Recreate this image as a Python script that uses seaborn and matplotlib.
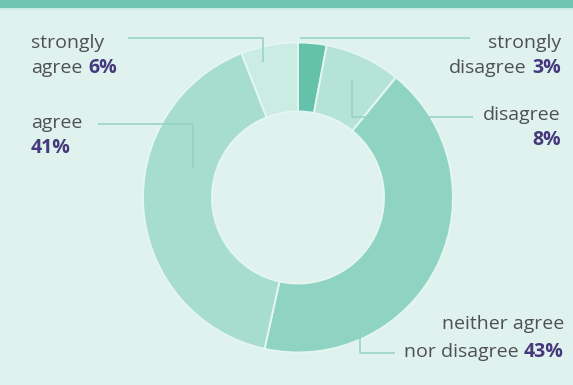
import matplotlib
matplotlib.use("Agg")
import matplotlib.pyplot as plt
import seaborn as sns

# ---- data ----
categories = ["strongly disagree", "disagree", "neither agree nor disagree", "agree", "strongly agree"]
values = [3, 8, 43, 41, 6]
label_lines = [
    ("strongly", "disagree", "3%"),
    ("disagree", "", "8%"),
    ("neither agree", "nor disagree", "43%"),
    ("agree", "", "41%"),
    ("strongly", "agree", "6%"),
]
slice_colors = ["#63c2a9", "#b5e3d7", "#8fd4c2", "#a7ddce", "#cbece3"]

BG = "#dff2ee"
HEADER = "#72c4b2"
LINE = "#93d2c3"
TXT = "#4e5052"
PCT = "#46387c"

sns.set_theme(style="white")
plt.rcParams["font.family"] = ["Open Sans", "DejaVu Sans"]

W, H = 573, 385
fig = plt.figure(figsize=(W / 100, H / 100), dpi=100)
fig.patch.set_facecolor(BG)
ax = fig.add_axes([0, 0, 1, 1])
ax.set_xlim(0, W)
ax.set_ylim(0, H)
ax.set_aspect("equal")
ax.axis("off")

def Y(py):
    return H - py

# header band
ax.axhspan(Y(8), H, color=HEADER, lw=0)
ax.axhspan(Y(10), Y(8), color="#c9ebe3", lw=0)

# donut
cx, cy, R, r = 298, 197.5, 155, 86
ax.pie(values, colors=slice_colors, startangle=90, counterclock=False,
       center=(cx, Y(cy)), radius=R, frame=True,
       wedgeprops=dict(width=R - r, edgecolor="#e4f6f1", linewidth=1.4))
ax.set_xlim(0, W)
ax.set_ylim(0, H)
ax.axis("off")

# leader lines (pixel coords)
leaders = [
    [(300, 38), (470, 38)],
    [(352, 80), (352, 117), (473, 117)],
    [(360, 308), (360, 353), (395, 353)],
    [(98, 124), (193, 124), (193, 168)],
    [(128, 38), (263, 38), (263, 62)],
]
for pts in leaders:
    ax.plot([p[0] for p in pts], [Y(p[1]) for p in pts], color=LINE, lw=1.1,
            solid_capstyle="butt")

FS = 14
fig.canvas.draw()
renderer = fig.canvas.get_renderer()
space = 6

def width(t):
    return t.get_window_extent(renderer).width

def right_label(xr, base1, base2, line1, line2, pct):
    ax.text(xr, Y(base1), line1, ha="right", va="baseline",
            fontsize=FS, color=TXT, fontweight="medium")
    if line2:
        p = ax.text(xr, Y(base2), pct, ha="right", va="baseline", fontsize=FS,
                    color=PCT, fontweight="bold")
        w = width(p)
        ax.text(xr - w - space, Y(base2), line2, ha="right", va="baseline",
                fontsize=FS, color=TXT, fontweight="medium")
    else:
        ax.text(xr, Y(base2), pct, ha="right", va="baseline", fontsize=FS,
                color=PCT, fontweight="bold")

def left_label(xl, base1, base2, line1, line2, pct):
    ax.text(xl, Y(base1), line1, ha="left", va="baseline", fontsize=FS, color=TXT,
            fontweight="medium")
    if line2:
        t = ax.text(xl, Y(base2), line2, ha="left", va="baseline", fontsize=FS,
                    color=TXT, fontweight="medium")
        w = width(t)
        ax.text(xl + w + space, Y(base2), pct, ha="left", va="baseline",
                fontsize=FS, color=PCT, fontweight="bold")
    else:
        ax.text(xl, Y(base2), pct, ha="left", va="baseline", fontsize=FS,
                color=PCT, fontweight="bold")

pos = [
    ("R", 561, 48, 73),
    ("R", 561, 120, 145),
    ("R", 564, 329, 357),
    ("L", 31, 128, 153),
    ("L", 31, 48, 73),
]
for (side, x, b1, b2), (l1, l2, pct) in zip(pos, label_lines):
    if side == "R":
        right_label(x, b1, b2, l1, l2, pct)
    else:
        left_label(x, b1, b2, l1, l2, pct)

fig.savefig("out.png", dpi=100, facecolor=BG)
